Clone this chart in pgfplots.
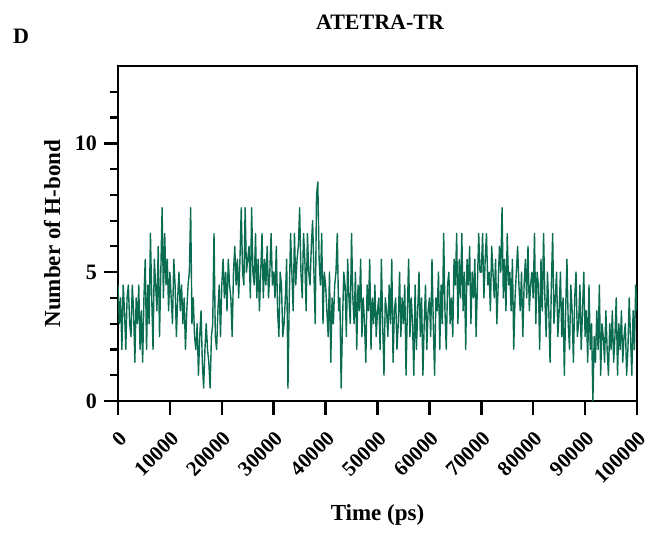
\documentclass[border=0pt]{standalone}
\usepackage{fontspec}
\setmainfont{Liberation Serif}
\usepackage{pgfplots}
\pgfplotsset{compat=1.18}
\definecolor{hgreen}{RGB}{10,108,80}
\begin{document}
\begin{tikzpicture}
\useasboundingbox (0pt,0pt) rectangle (657pt,533pt);
\node[font=\fontsize{22}{26}\selectfont\bfseries] at (380pt,511pt) {ATETRA-TR};
\node[font=\fontsize{22}{26}\selectfont\bfseries] at (21pt,497pt) {D};
\begin{axis}[
  at={(118pt,132pt)}, anchor=south west,
  scale only axis, width=519pt, height=335pt,
  xmin=0, xmax=100000, ymin=0, ymax=13,
  scaled x ticks=false,
  xtick={0,10000,20000,30000,40000,50000,60000,70000,80000,90000,100000},
  xticklabels={0,10000,20000,30000,40000,50000,60000,70000,80000,90000,100000},
  ytick={0,5,10},
  yticklabels={0,5,10},
  minor ytick={1,2,3,4,6,7,8,9,11,12},
  xtick pos=bottom, ytick pos=left,
  xtick align=outside, ytick align=outside,
  major tick length=14pt, minor tick length=8pt,
  line width=2.5pt,
  every major tick/.append style={line width=2.5pt, black},
  every minor tick/.append style={line width=2.2pt, black},
  xticklabel style={rotate=45, anchor=north east, font=\fontsize{21}{25}\selectfont\bfseries, inner sep=0pt, xshift=-9.4pt, yshift=-9.4pt},
  yticklabel style={font=\fontsize{22}{26}\selectfont\bfseries, inner sep=0pt, xshift=-6pt},
  xlabel={Time (ps)}, ylabel={Number of H-bond},
  label style={font=\fontsize{23}{27}\selectfont\bfseries},
  xlabel style={at={(axis description cs:0.5,-0.34)}, anchor=center},
  ylabel style={at={(axis description cs:-0.127,0.5)}, anchor=center},
]
\addplot[hgreen, line width=1.4pt, line join=round] coordinates {
(0,4.5)(250,3)(500,4)(750,2)(1000,4.5)(1250,3.5)(1500,2)(1750,4)(2000,4.5)(2250,3)(2500,2.5)(2750,4.5)(3000,3.5)(3250,1.5)(3500,4)(3750,3)(4000,4.5)(4250,2)(4500,3.5)(4750,1.5)
(5000,4)(5250,5.5)(5500,2)(5750,4.5)(6000,3)(6250,6.5)(6500,4)(6750,2)(7000,5.5)(7250,4.5)(7500,3.5)(7750,6)(8000,2.5)(8250,5)(8500,7.5)(8750,4)(9000,6.5)(9250,4.5)(9500,5.5)(9750,3.5)
(10000,5)(10250,4)(10500,3)(10750,5.5)(11000,4.5)(11250,2.5)(11500,4)(11750,5)(12000,3.5)(12250,4.5)(12500,3)(12750,4)(13000,2)(13250,3.5)(13500,4.5)(13750,5)(14000,7.5)(14250,3)(14500,4)(14750,2.5)
(15000,2)(15250,3)(15500,1)(15750,2.5)(16000,3.5)(16250,1.5)(16500,0.5)(16750,2)(17000,3)(17250,2)(17500,1.5)(17750,0.5)(18000,2.5)(18250,3)(18500,6.5)(18750,2.5)(19000,2)(19250,3.5)(19500,4.5)(19750,2.5)
(20000,4.5)(20250,5.5)(20500,4)(20750,5)(21000,3.5)(21250,5.5)(21500,4.5)(21750,4)(22000,2.5)(22250,5)(22500,6)(22750,4.5)(23000,5.5)(23250,4)(23500,5.5)(23750,7.5)(24000,5)(24250,4.5)(24500,7.5)(24750,5)
(25000,5.5)(25250,6)(25500,4)(25750,7.5)(26000,5)(26250,4.5)(26500,6.5)(26750,4)(27000,5.5)(27250,3.5)(27500,5)(27750,6.5)(28000,4)(28250,5.5)(28500,4.5)(28750,6)(29000,4)(29250,5)(29500,6.5)(29750,4.5)
(30000,5)(30250,4)(30500,6)(30750,3.5)(31000,2.5)(31250,5)(31500,4.5)(31750,2.5)(32000,3)(32250,4)(32500,5.5)(32750,0.5)(33000,4)(33250,6.5)(33500,5)(33750,3.5)(34000,6.5)(34250,4.5)(34500,5.5)(34750,6)
(35000,7.5)(35250,5)(35500,4)(35750,6.5)(36000,5.5)(36250,3.5)(36500,6.5)(36750,5)(37000,4.5)(37250,6)(37500,7)(37750,5)(38000,3)(38250,8)(38500,8.5)(38750,5.5)(39000,4.5)(39250,6.5)(39500,3)(39750,5)
(40000,4.5)(40250,3.5)(40500,2.5)(40750,5)(41000,1.5)(41250,4)(41500,3)(41750,4.5)(42000,5)(42250,6.5)(42500,3.5)(42750,4)(43000,0.5)(43250,3)(43500,5)(43750,4.5)(44000,2.5)(44250,5.5)(44500,4)(44750,3)
(45000,6.5)(45250,4)(45500,3)(45750,5)(46000,2)(46250,4.5)(46500,3.5)(46750,5.5)(47000,2.5)(47250,4)(47500,3)(47750,1.5)(48000,4.5)(48250,3.5)(48500,5.5)(48750,2)(49000,4)(49250,3)(49500,4.5)(49750,2.5)
(50000,3.5)(50250,4)(50500,2)(50750,5.5)(51000,3)(51250,1)(51500,4)(51750,3.5)(52000,2.5)(52250,4.5)(52500,3)(52750,5.5)(53000,1.5)(53250,3.5)(53500,4)(53750,2)(54000,3)(54250,5)(54500,2.5)(54750,4)
(55000,3)(55250,4.5)(55500,1)(55750,3.5)(56000,5.5)(56250,2.5)(56500,4)(56750,3)(57000,1)(57250,4.5)(57500,2)(57750,3.5)(58000,5)(58250,2.5)(58500,4)(58750,1)(59000,3)(59250,4.5)(59500,2)(59750,3.5)
(60000,4)(60250,2.5)(60500,5.5)(60750,3)(61000,1)(61250,4)(61500,3.5)(61750,5)(62000,2)(62250,4.5)(62500,3)(62750,6.5)(63000,3.5)(63250,2)(63500,4.5)(63750,5)(64000,3)(64250,4)(64500,2.5)(64750,5.5)
(65000,4.5)(65250,6.5)(65500,3)(65750,5.5)(66000,4)(66250,6.5)(66500,3.5)(66750,5)(67000,2)(67250,5.5)(67500,4.5)(67750,6)(68000,3)(68250,5)(68500,4)(68750,5.5)(69000,2.5)(69250,4.5)(69500,6.5)(69750,5)
(70000,5)(70250,6.5)(70500,4)(70750,5.5)(71000,6.5)(71250,4.5)(71500,5)(71750,3.5)(72000,6)(72250,5)(72500,4)(72750,5.5)(73000,3)(73250,4.5)(73500,6)(73750,5)(74000,7.5)(74250,4)(74500,5.5)(74750,3.5)
(75000,6.5)(75250,4.5)(75500,5)(75750,3.5)(76000,5.5)(76250,2)(76500,4)(76750,5)(77000,6)(77250,4.5)(77500,3.5)(77750,5)(78000,2.5)(78250,4.5)(78500,5.5)(78750,4)(79000,6)(79250,3.5)(79500,4.5)(79750,5)
(80000,4)(80250,6.5)(80500,3)(80750,5)(81000,4.5)(81250,2)(81500,5.5)(81750,3.5)(82000,6.5)(82250,4)(82500,2.5)(82750,5)(83000,3.5)(83250,1.5)(83500,4.5)(83750,6.5)(84000,3)(84250,4)(84500,5)(84750,2.5)
(85000,3.5)(85250,5)(85500,2.5)(85750,4)(86000,1)(86250,3.5)(86500,5.5)(86750,3)(87000,2)(87250,4.5)(87500,3.5)(87750,1.5)(88000,4)(88250,5)(88500,2.5)(88750,3)(89000,4.5)(89250,2)(89500,3.5)(89750,5)
(90000,2.5)(90250,3.5)(90500,1.5)(90750,4.5)(91000,2)(91250,3)(91500,0)(91750,2.5)(92000,1.5)(92250,3.5)(92500,2)(92750,4.5)(93000,1)(93250,3)(93500,2.5)(93750,1.5)(94000,3.5)(94250,2)(94500,1)(94750,3)
(95000,2)(95250,3.5)(95500,1.5)(95750,2.5)(96000,4)(96250,1)(96500,3)(96750,2)(97000,3.5)(97250,1.5)(97500,2.5)(97750,3)(98000,1)(98250,2)(98500,4)(98750,2.5)(99000,1)(99250,3.5)(99500,2)(99750,4.5)
(100000,3.5)
};
\coordinate (x0) at (axis cs:0,0);
\coordinate (x1) at (axis cs:10000,0);
\coordinate (x2) at (axis cs:20000,0);
\coordinate (x3) at (axis cs:30000,0);
\coordinate (x4) at (axis cs:40000,0);
\coordinate (x5) at (axis cs:50000,0);
\coordinate (x6) at (axis cs:60000,0);
\coordinate (x7) at (axis cs:70000,0);
\coordinate (x8) at (axis cs:80000,0);
\coordinate (x9) at (axis cs:90000,0);
\coordinate (x10) at (axis cs:100000,0);
\coordinate (y5) at (axis cs:0,5);
\coordinate (y10) at (axis cs:0,10);
\end{axis}
\foreach \c in {x0,x1,x2,x3,x4,x5,x6,x7,x8,x9,x10}{
  \draw[line width=2.5pt, black] (\c) -- ([yshift=-14pt]\c);
}
\foreach \c in {x0,y5,y10}{
  \draw[line width=2.5pt, black] (\c) -- ([xshift=-14pt]\c);
}
\end{tikzpicture}
\end{document}
